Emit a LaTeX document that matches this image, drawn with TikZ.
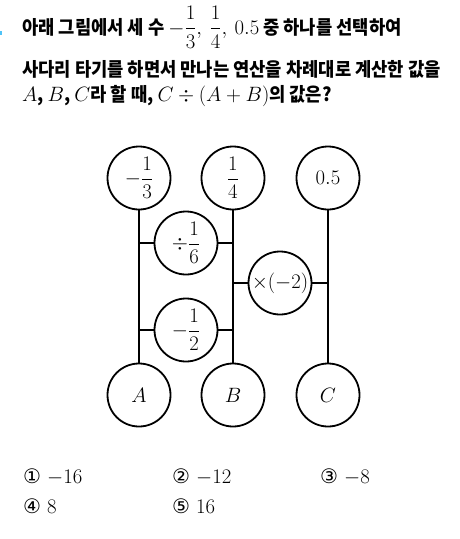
\documentclass[tikz,border=0pt]{standalone}
\usepackage{fontspec}
\usepackage{amsmath}
\newfontfamily\kr[Scale=0.95, FakeStretch=0.93]{Noto Sans CJK KR}
\newfontfamily\sym{DejaVu Sans}
\begin{document}
\begin{tikzpicture}[x=1pt, y=-1pt, every node/.style={inner sep=0pt, font=\fontsize{20}{24}\selectfont}, ball/.style={circle, draw, line width=1.8pt, minimum size=63pt}, rung/.style={line width=1.8pt}, qline/.style={anchor=base west, font=\fontsize{20}{24}\selectfont\kr\bfseries}, pick/.style={anchor=base west}]
\definecolor{Mark}{HTML}{4FC3F7}
\useasboundingbox (0,0) rectangle (459,539);
\fill[Mark] (0,31) rectangle (2,35);
\node[qline] (q1) at (22,34) {아래 그림에서 세 수 $\displaystyle-\frac{1}{3},\ \frac{1}{4},\ 0.5$ 중 하나를 선택하여};
\node[qline] (q2) at (22,76) {사다리 타기를 하면서 만나는 연산을 차례대로 계산한 값을};
\node[qline] (q3) at (22,101) {$A$, $B$, $C$라 할 때, $C\div(A+B)$의 값은?};
\node[ball] (t1) at (139,178) {$-\dfrac{1}{3}$}; \node[ball] (t2) at (233,178) {$\dfrac{1}{4}$}; \node[ball] (t3) at (328,178) {$0.5$};
\node[ball] (b1) at (139,395) {$A$}; \node[ball] (b2) at (233,395) {$B$}; \node[ball] (b3) at (328,395) {$C$};
\node[ball] (m1) at (186,243) {$\div\dfrac{1}{6}$};
\node[ball] (m2) at (186,330) {$-\dfrac{1}{2}$};
\node[ball] (m3) at (280,283) {$\times(-2)$};
\foreach \i in {1,2,3} \draw[rung] (t\i) -- (b\i);
\draw[rung] (m1.west) -- (m1.west -| t1); \draw[rung] (m1.east) -- (m1.east -| t2);
\draw[rung] (m2.west) -- (m2.west -| t1); \draw[rung] (m2.east) -- (m2.east -| t2);
\draw[rung] (m3.west) -- (m3.west -| t2); \draw[rung] (m3.east) -- (m3.east -| t3);
\node[pick] (c1) at (23,483) {{\sym\fontsize{20}{24}\selectfont ①} $-16$};
\node[pick] (c2) at (172,483) {{\sym\fontsize{20}{24}\selectfont ②} $-12$};
\node[pick] (c3) at (320,483) {{\sym\fontsize{20}{24}\selectfont ③} $-8$};
\node[pick] (c4) at (23,513) {{\sym\fontsize{20}{24}\selectfont ④} $8$};
\node[pick] (c5) at (172,513) {{\sym\fontsize{20}{24}\selectfont ⑤} $16$};
\end{tikzpicture}
\end{document}
